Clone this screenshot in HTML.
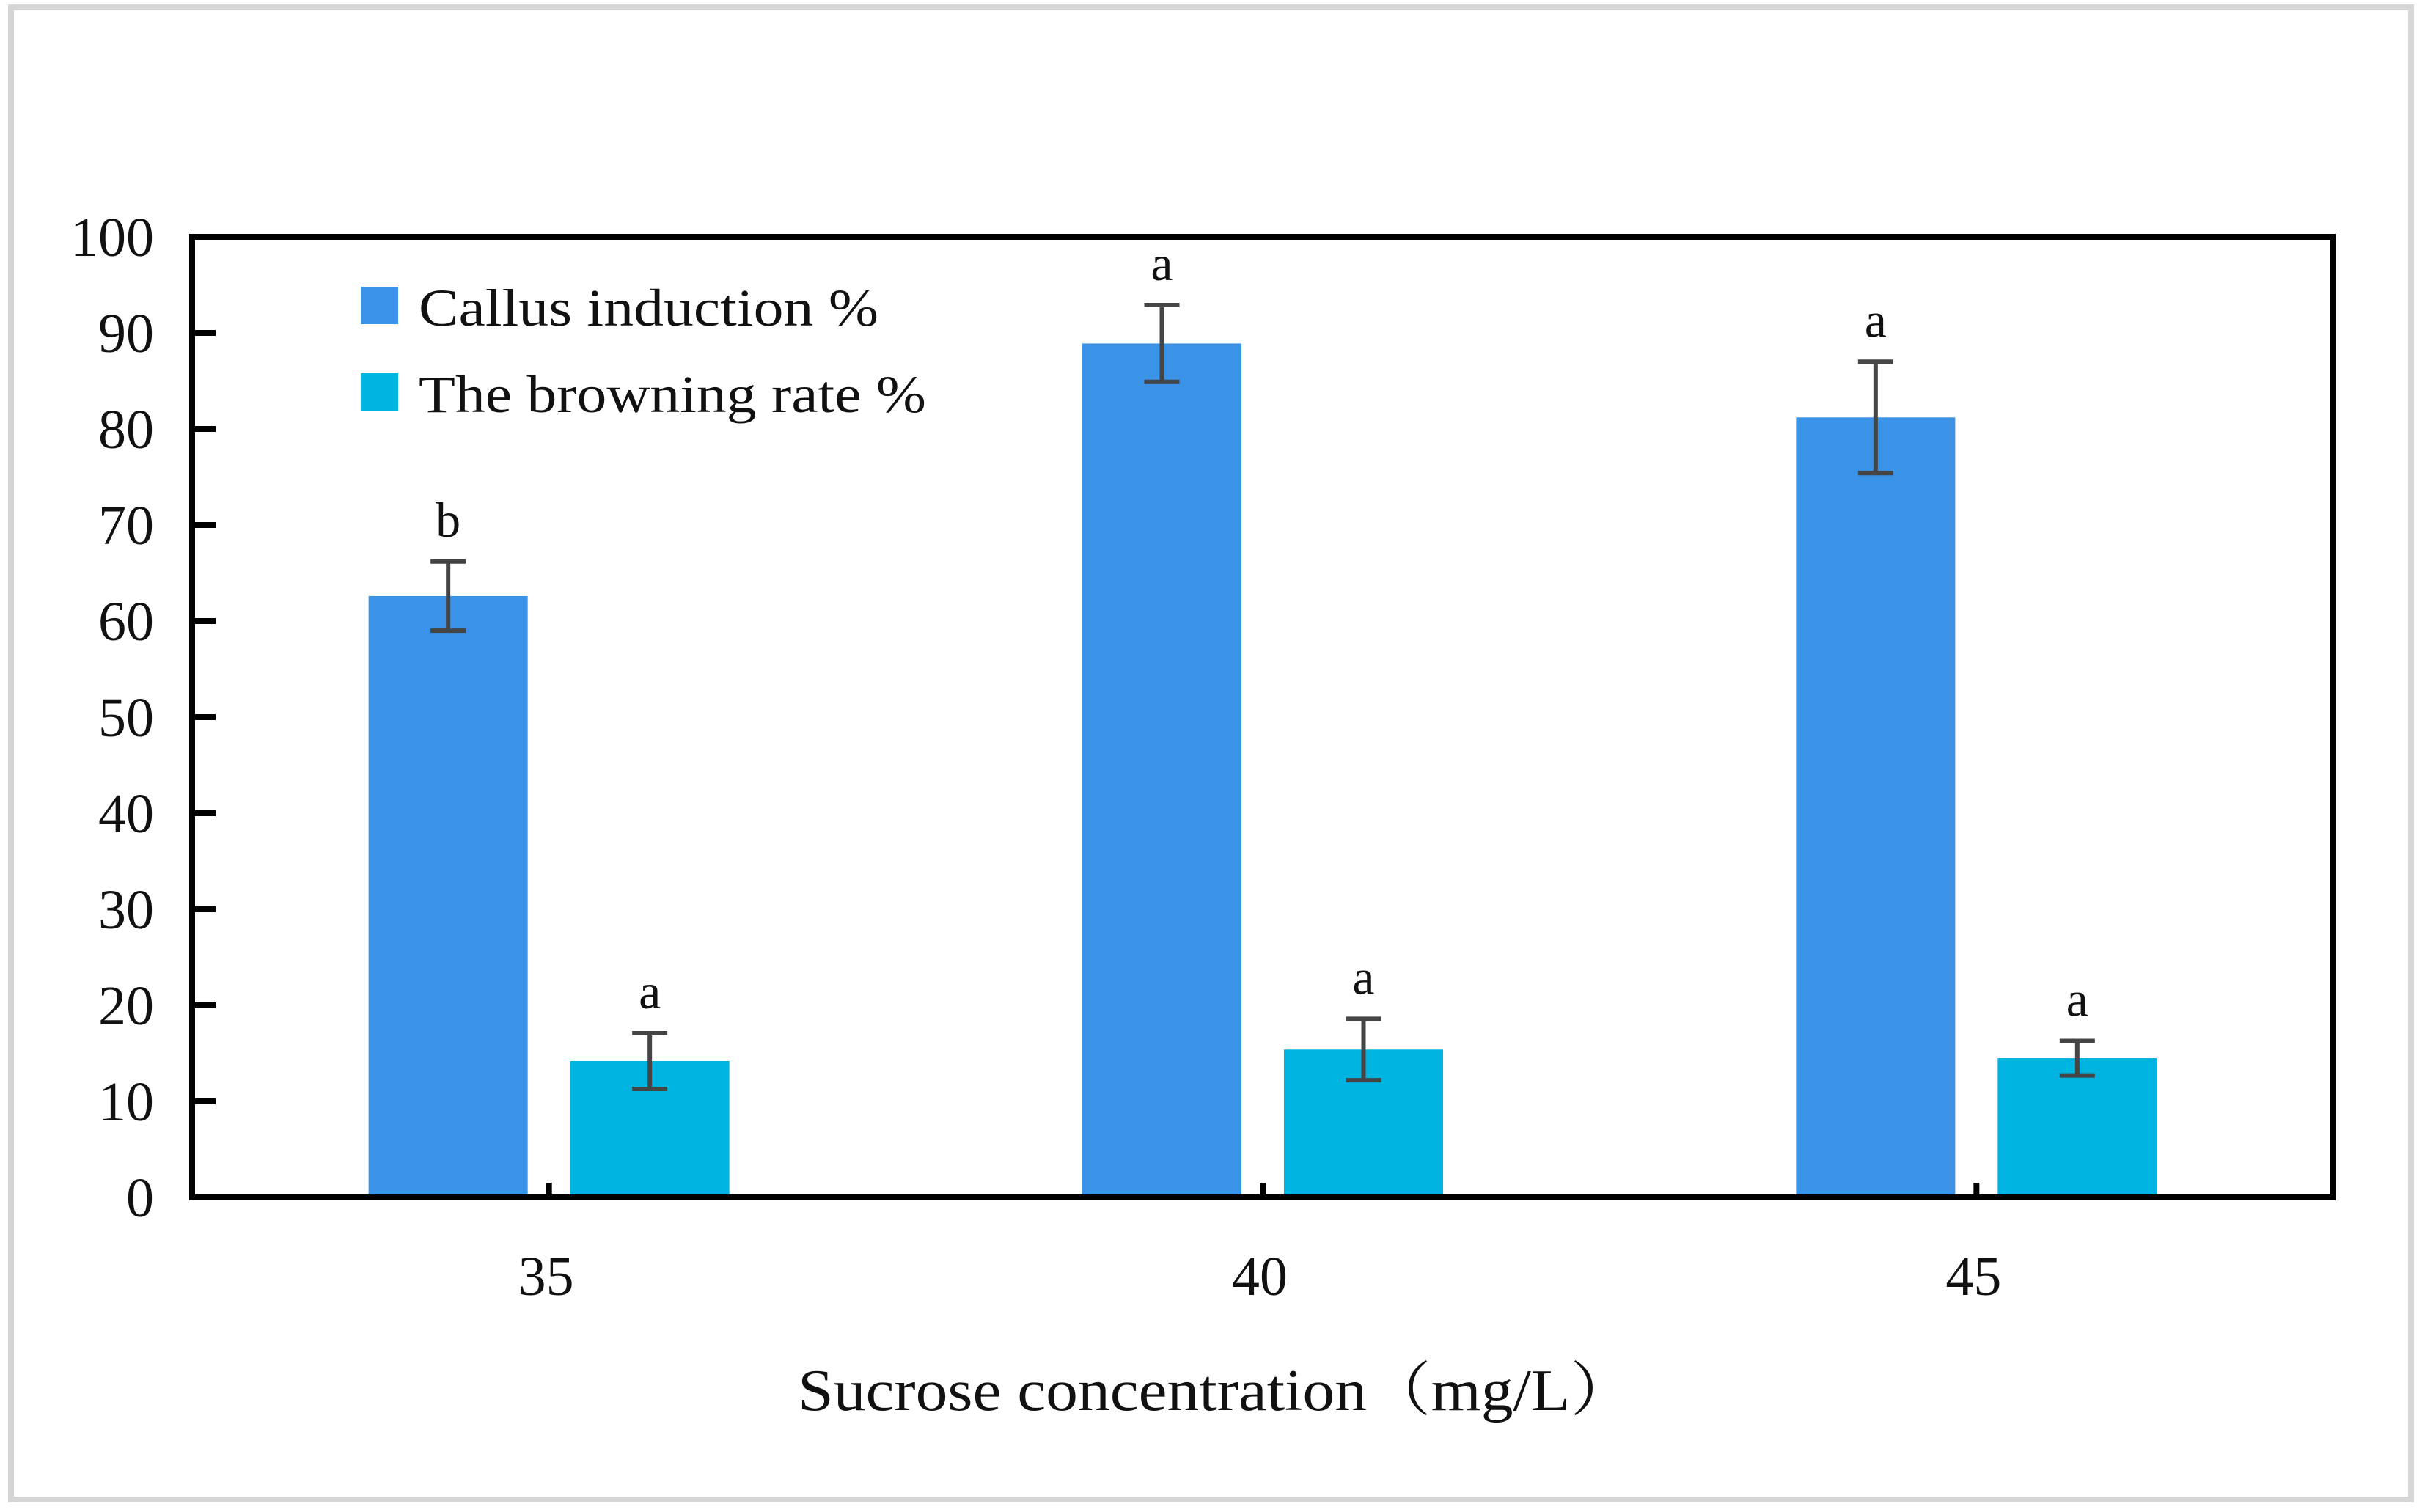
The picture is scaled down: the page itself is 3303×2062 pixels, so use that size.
<!DOCTYPE html>
<html><head><meta charset="utf-8">
<style>
html,body{margin:0;padding:0;background:#fff;}
svg{display:block;}
text{font-family:"Liberation Serif","Noto Serif CJK SC",serif;fill:#111;}
</style></head>
<body>
<svg id="chart" width="3303" height="2062" viewBox="0 0 3303 2062" xmlns="http://www.w3.org/2000/svg">
<rect x="15" y="10" width="3273" height="2035" fill="#fff" stroke="#d6d6d6" stroke-width="8"/>
<g id="plot"></g>
</svg>
<script>
const categories = ["35", "40", "45"];
const callusValues = [62.6, 88.9, 81.2];
const callusErrors = [3.6, 4.0, 5.8];
const browningValues = [14.2, 15.4, 14.5];
const browningErrors = [2.9, 3.2, 1.8];
const callusLetters = ["b", "a", "a"];
const browningLetters = ["a", "a", "a"];
const yTicks = [0, 10, 20, 30, 40, 50, 60, 70, 80, 90, 100];

const NS = "http://www.w3.org/2000/svg";
const g = document.getElementById("plot");
const L = 262, R = 3182, T = 323, B = 1633;
const yMax = 100;
function y(v){ return B - (v / yMax) * (B - T); }
function xc(i){ return L + (R - L) / categories.length * (i + 0.5); }
const barW = 217, gap = 29;

function mk(tag, attrs, parent){
  const e = document.createElementNS(NS, tag);
  for (const k in attrs) e.setAttribute(k, attrs[k]);
  (parent || g).appendChild(e);
  return e;
}

function drawSeries(vals, errs, letters, color, side, name){
  vals.forEach((v, i) => {
    const x0 = side < 0 ? xc(i) - gap - barW : xc(i) + gap;
    const r = mk("rect", {x: x0, y: y(v), width: barW, height: B - y(v), fill: color});
    
    
    const cx = x0 + barW / 2;
    const eg = mk("g", {stroke: "#454545", "stroke-width": 6});
    
    
    mk("line", {x1: cx, x2: cx, y1: y(v + errs[i]), y2: y(v - errs[i])}, eg);
    mk("line", {x1: cx - 24, x2: cx + 24, y1: y(v + errs[i]), y2: y(v + errs[i])}, eg);
    mk("line", {x1: cx - 24, x2: cx + 24, y1: y(v - errs[i]), y2: y(v - errs[i])}, eg);
    const t = mk("text", {x: cx, y: y(v + errs[i]) - 34, "text-anchor": "middle", "font-size": 68});
    t.textContent = letters[i];
    
    
  });
}
drawSeries(callusValues, callusErrors, callusLetters, "#3a93e6", -1, "callus");
drawSeries(browningValues, browningErrors, browningLetters, "#00b4e2", 1, "browning");

const frame = mk("rect", {x: L, y: T, width: R - L, height: B - T, fill: "none", stroke: "#000", "stroke-width": 8});



yTicks.forEach(v => {
  if (v > 0 && v < 100) {
    const tk = mk("line", {x1: L, x2: L + 32, y1: y(v), y2: y(v), stroke: "#000", "stroke-width": 8});
    
    
  }
  const t = mk("text", {x: 210, y: y(v) + 26, "text-anchor": "end", "font-size": 76});
  t.textContent = v;
  
  
});

categories.forEach((c, i) => {
  const tk = mk("line", {x1: xc(i), x2: xc(i), y1: B, y2: B - 20, stroke: "#000", "stroke-width": 8});
  
  
  const t = mk("text", {x: xc(i) - 4, y: 1766, "text-anchor": "middle", "font-size": 76});
  t.textContent = c;
  
  
});

const xt = mk("text", {x: 1088, y: 1923, "font-size": 80, textLength: 1141, lengthAdjust: "spacingAndGlyphs"});
xt.textContent = "Sucrose concentration（mg/L）";



const lg = mk("g", {});


const items = [["Callus induction %", "#3a93e6", 391, 444, 627], ["The browning rate %", "#00b4e2", 509, 562, 692]];
items.forEach((it, k) => {
  const sw = mk("rect", {x: 492, y: it[2], width: 51, height: 51, fill: it[1]}, lg);
  
  
  const t = mk("text", {x: 571, y: it[3], "font-size": 72, textLength: it[4], lengthAdjust: "spacingAndGlyphs"}, lg);
  t.textContent = it[0];
  
  
});
</script>
</body></html>
